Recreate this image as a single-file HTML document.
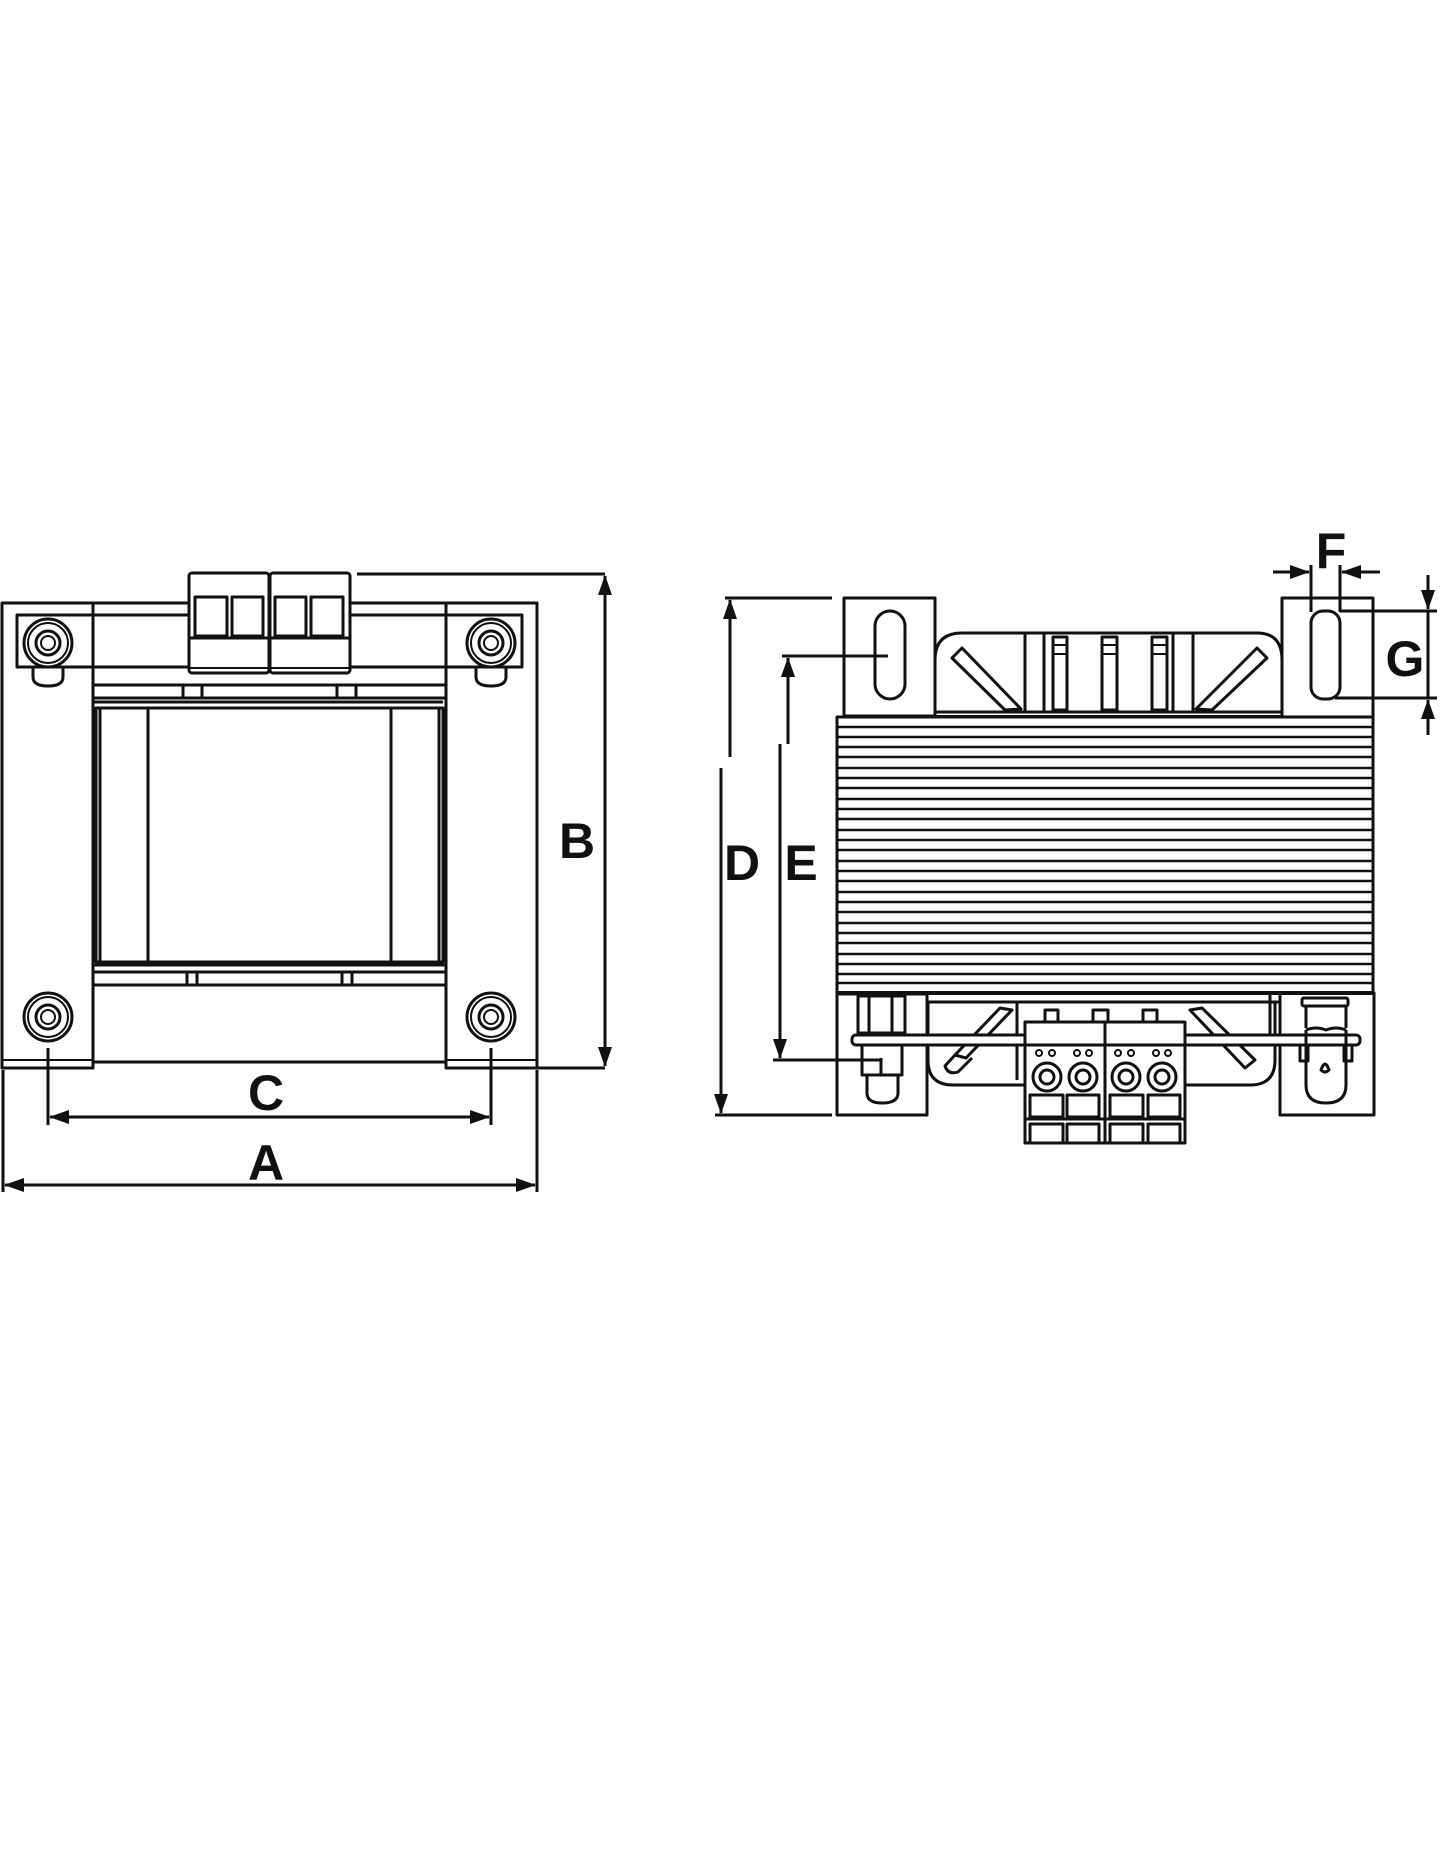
<!DOCTYPE html>
<html><head><meta charset="utf-8"><style>
html,body{margin:0;padding:0;background:#fdfdfc;}
svg{display:block}
text{font-family:"Liberation Sans",Arial,sans-serif;font-weight:bold;fill:#111;}
</style></head><body>
<svg width="1440" height="1851" viewBox="0 0 1440 1851" xmlns="http://www.w3.org/2000/svg">
<defs>
<marker id="ar" viewBox="0 0 20 14" refX="19" refY="7" markerWidth="20" markerHeight="14" markerUnits="userSpaceOnUse" orient="auto-start-reverse"><path d="M0,0 L20,7 L0,14 Z" fill="#111"/></marker>
</defs>
<g fill="none" stroke="#111" stroke-width="3" stroke-linejoin="round">
<!-- LEFT DRAWING -->
<!-- legs -->
<rect x="2" y="603" width="91" height="465"/>
<rect x="446" y="603" width="91" height="465"/>
<line x1="2" y1="1060" x2="93" y2="1060" stroke-width="2"/>
<line x1="446" y1="1060" x2="537" y2="1060" stroke-width="2"/>
<line x1="93" y1="1062" x2="446" y2="1062"/>
<!-- top frame band -->
<line x1="93" y1="603" x2="189" y2="603"/>
<line x1="350" y1="603" x2="446" y2="603"/>
<line x1="93" y1="615" x2="189" y2="615"/>
<line x1="350" y1="615" x2="446" y2="615"/>
<!-- strip -->
<rect x="17" y="615" width="505" height="52"/>
<!-- terminal block -->
<rect x="189" y="573" width="80" height="100" rx="3" fill="#fdfdfc"/>
<rect x="270" y="573" width="80" height="100" rx="3" fill="#fdfdfc"/>
<line x1="189" y1="638" x2="350" y2="638"/>
<line x1="189" y1="668" x2="350" y2="668" stroke-width="2"/>
<rect x="195" y="597" width="32" height="39"/><rect x="232" y="597" width="31" height="39"/>
<rect x="275" y="597" width="31" height="39"/><rect x="311" y="597" width="32" height="39"/>
<line x1="357" y1="574" x2="605" y2="574"/>
<!-- bolts -->
<g id="bolt">
<circle cx="48" cy="643" r="24"/><circle cx="48" cy="643" r="20" stroke-width="2"/>
<circle cx="48" cy="643" r="12"/><circle cx="48" cy="643" r="7" stroke-width="2"/>
</g>
<path d="M33,667 v10 q0,9 15,9 q15,0 15,-9 v-10"/>
<circle cx="491" cy="643" r="24"/><circle cx="491" cy="643" r="20" stroke-width="2"/>
<circle cx="491" cy="643" r="12"/><circle cx="491" cy="643" r="7" stroke-width="2"/>
<path d="M476,667 v10 q0,9 15,9 q15,0 15,-9 v-10"/>
<circle cx="48" cy="1017" r="24"/><circle cx="48" cy="1017" r="20" stroke-width="2"/>
<circle cx="48" cy="1017" r="12"/><circle cx="48" cy="1017" r="7" stroke-width="2"/>
<circle cx="491" cy="1017" r="24"/><circle cx="491" cy="1017" r="20" stroke-width="2"/>
<circle cx="491" cy="1017" r="12"/><circle cx="491" cy="1017" r="7" stroke-width="2"/>
<!-- coil area -->
<line x1="93" y1="685" x2="446" y2="685"/>
<line x1="93" y1="698" x2="446" y2="698"/>
<line x1="93" y1="702" x2="443" y2="702"/>
<rect x="183" y="685" width="19" height="13"/><rect x="337" y="685" width="19" height="13"/>
<rect x="96" y="708" width="347" height="254"/>
<line x1="100" y1="708" x2="100" y2="962"/>
<line x1="148" y1="708" x2="148" y2="962"/>
<line x1="391" y1="708" x2="391" y2="962"/>
<line x1="439" y1="708" x2="439" y2="962"/>
<line x1="93" y1="965" x2="446" y2="965"/>
<line x1="93" y1="972" x2="446" y2="972"/>
<line x1="93" y1="985" x2="446" y2="985"/>
<rect x="187" y="972" width="10" height="13"/><rect x="342" y="972" width="10" height="13"/>
<!-- dims left -->
<line x1="537" y1="1068" x2="605" y2="1068"/>
<line x1="605" y1="576" x2="605" y2="1066" marker-start="url(#ar)" marker-end="url(#ar)"/>
<line x1="48" y1="1048" x2="48" y2="1125"/>
<line x1="491" y1="1048" x2="491" y2="1125"/>
<line x1="50" y1="1117" x2="489" y2="1117" marker-start="url(#ar)" marker-end="url(#ar)"/>
<line x1="3" y1="1070" x2="3" y2="1192"/>
<line x1="537" y1="1070" x2="537" y2="1192"/>
<line x1="5" y1="1185" x2="535" y2="1185" marker-start="url(#ar)" marker-end="url(#ar)"/>

<!-- RIGHT DRAWING -->
<!-- top cover -->
<path d="M935,712 V660 Q935,633 962,633 H1257 Q1282,633 1282,660 V712"/>
<line x1="935" y1="712" x2="1282" y2="712"/>
<line x1="935" y1="716" x2="1282" y2="716" stroke-width="2"/>
<line x1="1025" y1="633" x2="1025" y2="712"/><line x1="1044" y1="633" x2="1044" y2="712"/>
<line x1="1173" y1="633" x2="1173" y2="712"/><line x1="1193" y1="633" x2="1193" y2="712"/>
<rect x="1053" y="637" width="14" height="73"/><line x1="1053" y1="645" x2="1067" y2="645" stroke-width="2"/><line x1="1053" y1="654" x2="1067" y2="654" stroke-width="2"/>
<rect x="1102" y="637" width="15" height="73"/><line x1="1102" y1="645" x2="1117" y2="645" stroke-width="2"/><line x1="1102" y1="654" x2="1117" y2="654" stroke-width="2"/>
<rect x="1152" y="637" width="15" height="73"/><line x1="1152" y1="645" x2="1167" y2="645" stroke-width="2"/><line x1="1152" y1="654" x2="1167" y2="654" stroke-width="2"/>
<path d="M952,658 L962,648 L1021,709 L1005,710 Z"/>
<path d="M1267,658 L1257,648 L1196,709 L1212,710 Z"/>
<line x1="1288" y1="643" x2="1288" y2="723"/>
<!-- brackets top -->
<rect x="844" y="598" width="91" height="118" fill="#fdfdfc"/>
<rect x="875" y="611" width="30" height="88" rx="15"/>
<rect x="1282" y="598" width="91" height="125" fill="#fdfdfc"/>
<rect x="1311" y="611" width="29" height="88" rx="12"/>
<!-- core -->
<rect x="837" y="717" width="536" height="276" fill="#fdfdfc"/>
<g stroke-width="2.6">
<line x1="837" y1="727" x2="1373" y2="727"/><line x1="837" y1="737" x2="1373" y2="737"/>
<line x1="837" y1="747" x2="1373" y2="747"/><line x1="837" y1="757" x2="1373" y2="757"/>
<line x1="837" y1="768" x2="1373" y2="768"/><line x1="837" y1="778" x2="1373" y2="778"/>
<line x1="837" y1="788" x2="1373" y2="788"/><line x1="837" y1="799" x2="1373" y2="799"/>
<line x1="837" y1="809" x2="1373" y2="809"/><line x1="837" y1="819" x2="1373" y2="819"/>
<line x1="837" y1="830" x2="1373" y2="830"/><line x1="837" y1="840" x2="1373" y2="840"/>
<line x1="837" y1="850" x2="1373" y2="850"/><line x1="837" y1="861" x2="1373" y2="861"/>
<line x1="837" y1="871" x2="1373" y2="871"/><line x1="837" y1="881" x2="1373" y2="881"/>
<line x1="837" y1="892" x2="1373" y2="892"/><line x1="837" y1="902" x2="1373" y2="902"/>
<line x1="837" y1="912" x2="1373" y2="912"/><line x1="837" y1="923" x2="1373" y2="923"/>
<line x1="837" y1="933" x2="1373" y2="933"/><line x1="837" y1="943" x2="1373" y2="943"/>
<line x1="837" y1="954" x2="1373" y2="954"/><line x1="837" y1="964" x2="1373" y2="964"/>
<line x1="837" y1="974" x2="1373" y2="974"/><line x1="837" y1="983" x2="1373" y2="983"/>
</g>
<line x1="837" y1="993" x2="1373" y2="993" stroke-width="4"/>
<!-- bottom cover -->
<line x1="927" y1="1002" x2="1280" y2="1002"/>
<path d="M928,1002 V1060 Q928,1085 953,1085 H1250 Q1275,1085 1275,1060 V1002"/>
<line x1="1017" y1="1002" x2="1017" y2="1080"/>
<line x1="1270" y1="993" x2="1270" y2="1035"/>
<path d="M1012,1010 L1000,1008 L955,1055 L966,1058 Z"/>
<path d="M955,1055 L945,1066 Q948,1075 958,1072 L972,1058"/>
<path d="M1190,1010 L1202,1008 L1255,1060 L1245,1068 Z"/>
<!-- brackets bottom -->
<rect x="837" y="994" width="90" height="121"/>
<rect x="1280" y="993" width="94" height="122"/>
<!-- rod -->
<rect x="852" y="1035" width="508" height="10" rx="4" fill="#fdfdfc"/>
<!-- left bolt -->
<rect x="858" y="996" width="47" height="37" fill="#fdfdfc"/>
<line x1="869" y1="996" x2="869" y2="1033"/><line x1="892" y1="996" x2="892" y2="1033"/>
<rect x="862" y="1045" width="40" height="30" fill="#fdfdfc"/>
<line x1="881" y1="1058" x2="881" y2="1075"/>
<path d="M867,1075 V1093 Q867,1103 882,1103 Q898,1103 898,1093 V1075"/>
<!-- right bolt -->
<rect x="1302" y="998" width="46" height="8" rx="2"/>
<path d="M1306,1006 V1028 M1346,1006 V1028"/>
<path d="M1306,1030 Q1316,1026 1326,1030 Q1336,1026 1346,1030"/>
<path d="M1306,1030 V1085 Q1306,1103 1326,1103 Q1346,1103 1346,1085 V1030"/>
<rect x="1300" y="1045" width="8" height="16"/><rect x="1344" y="1045" width="8" height="16"/>
<path d="M1321,1070 Q1325,1058 1329,1070 Q1325,1074 1321,1070 Z"/>
<!-- terminal block bottom -->
<rect x="1045" y="1010" width="13" height="12"/><rect x="1093" y="1010" width="15" height="12"/><rect x="1143" y="1010" width="14" height="12"/>
<rect x="1025" y="1022" width="160" height="121" fill="#fdfdfc"/>
<line x1="1105" y1="1022" x2="1105" y2="1143"/>
<line x1="1025" y1="1045" x2="1185" y2="1045"/>
<circle cx="1047" cy="1077" r="14"/><circle cx="1047" cy="1077" r="7"/>
<circle cx="1083" cy="1077" r="14"/><circle cx="1083" cy="1077" r="7"/>
<circle cx="1126" cy="1077" r="14"/><circle cx="1126" cy="1077" r="7"/>
<circle cx="1162" cy="1077" r="14"/><circle cx="1162" cy="1077" r="7"/>
<g stroke-width="2"><circle cx="1039" cy="1053" r="3"/><circle cx="1052" cy="1053" r="3"/><circle cx="1077" cy="1053" r="3"/><circle cx="1089" cy="1053" r="3"/>
<circle cx="1118" cy="1053" r="3"/><circle cx="1131" cy="1053" r="3"/><circle cx="1156" cy="1053" r="3"/><circle cx="1168" cy="1053" r="3"/></g>
<rect x="1030" y="1095" width="33" height="22"/><rect x="1067" y="1095" width="32" height="22"/>
<rect x="1110" y="1095" width="33" height="22"/><rect x="1148" y="1095" width="32" height="22"/>
<line x1="1025" y1="1119" x2="1185" y2="1119"/>
<rect x="1030" y="1124" width="33" height="19"/><rect x="1067" y="1124" width="32" height="19"/>
<rect x="1110" y="1124" width="33" height="19"/><rect x="1148" y="1124" width="32" height="19"/>
<!-- dims right -->
<line x1="725" y1="598" x2="832" y2="598"/>
<line x1="730" y1="600" x2="730" y2="757" marker-start="url(#ar)"/>
<line x1="721" y1="768" x2="721" y2="1113" marker-end="url(#ar)"/>
<line x1="715" y1="1115" x2="832" y2="1115"/>
<line x1="782" y1="656" x2="888" y2="656"/>
<line x1="788" y1="658" x2="788" y2="744" marker-start="url(#ar)"/>
<line x1="780" y1="744" x2="780" y2="1058" marker-end="url(#ar)"/>
<line x1="773" y1="1060" x2="880" y2="1060"/>
<!-- F -->
<line x1="1311" y1="565" x2="1311" y2="612"/>
<line x1="1340" y1="565" x2="1340" y2="612"/>
<line x1="1273" y1="572" x2="1309" y2="572" marker-end="url(#ar)"/>
<line x1="1380" y1="572" x2="1342" y2="572" marker-end="url(#ar)"/>
<!-- G -->
<line x1="1340" y1="611" x2="1437" y2="611"/>
<line x1="1335" y1="698" x2="1437" y2="698"/>
<line x1="1428" y1="575" x2="1428" y2="609" marker-end="url(#ar)"/>
<line x1="1428" y1="611" x2="1428" y2="698"/>
<line x1="1428" y1="735" x2="1428" y2="700" marker-end="url(#ar)"/>
</g>
<g font-size="50" text-anchor="middle">
<text x="577" y="858">B</text>
<text x="266" y="1110">C</text>
<text x="266" y="1180">A</text>
<text x="742" y="880">D</text>
<text x="801" y="880">E</text>
<text x="1331" y="568">F</text>
<text x="1405" y="676">G</text>
</g>
</svg>
</body></html>
